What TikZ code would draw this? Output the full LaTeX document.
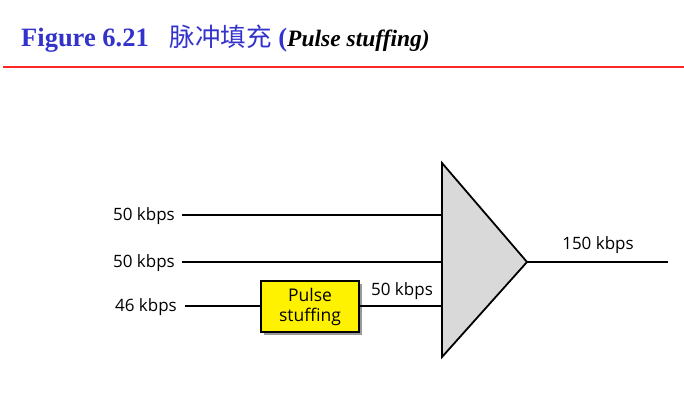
\documentclass[tikz,border=0pt]{standalone}
\usepackage{fontspec}
\setmainfont{Liberation Serif}
\newfontfamily\labelfont{Open Sans}
\newfontfamily\cjk{Noto Sans CJK SC}
\usetikzlibrary{calc}
\usetikzlibrary{shadows}
\definecolor{titleblue}{RGB}{51,51,204}
\definecolor{muxgray}{RGB}{217,217,217}
\tikzset{
    rate/.style={font=\labelfont\fontsize{17}{17}\selectfont, inner sep=0pt},
    link/.style={line width=1.8pt},
    stuffbox/.style={draw, line width=1.2pt, fill=yellow, minimum width=98pt, minimum height=51pt,
        align=center, font=\labelfont\fontsize{17.5}{20}\selectfont,
        drop shadow={shadow xshift=3pt, shadow yshift=-3pt, fill=gray!80, opacity=1}},
}
\begin{document}
\begin{tikzpicture}[x=1pt, y=-1pt]
                \useasboundingbox (0,0) rectangle (684,402);

                \node[anchor=base west, inner sep=0pt, text=titleblue] (title) at (21,46)
                    {\fontsize{26.5}{26.5}\selectfont\bfseries Figure 6.21\hspace{21pt}{\cjk\mdseries\fontsize{25.5}{25.5}\selectfont 脉冲填充} (\color{black}\fontsize{23.5}{23.5}\selectfont\itshape Pulse stuffing)};
                \draw[red!85!white, line width=1.2pt] (3,67) -- (684,67);

                \coordinate (T) at (442,163);
                \coordinate (B) at (442,357);
                \coordinate (A) at (527,262);
                \draw[fill=muxgray, line width=1.8pt, line join=miter] (T) -- (A) -- (B) -- cycle;

                \coordinate (in1) at (442,215);
                \coordinate (in2) at (442,262);
                \coordinate (in3) at (442,306);
                \coordinate (out) at (668,262);

                \node[rate, anchor=east] (r1) at (175,216) {50 kbps};
                \node[rate, anchor=east] (r2) at (175,263) {50 kbps};
                \node[rate, anchor=east] (r3) at (177,307) {46 kbps};

                \node[stuffbox] (stuff) at (310,306.5) {Pulse\\stuffing};

                \draw[link] ($(r1.east)+(7,-1)$) -- (in1);
                \draw[link] ($(r2.east)+(7,-1)$) -- (in2);
                \draw[link] ($(r3.east)+(8,-1)$) -- (stuff.west |- in3);
                \draw[link] (stuff.east |- in3) -- (in3);
                \draw[link] (A) -- (out);

                \node[rate] (r4) at (402,291) {50 kbps};
                \node[rate] (r5) at (598,245) {150 kbps};
            \end{tikzpicture}
\end{document}
